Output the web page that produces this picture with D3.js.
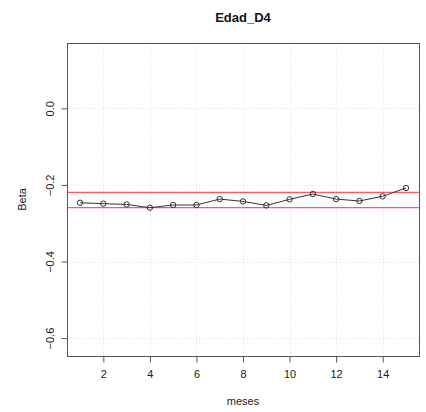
<!DOCTYPE html>
<html>
<head>
<meta charset="utf-8">
<script src="https://cdn.jsdelivr.net/npm/d3@7"></script>
<style>
  html, body { margin: 0; padding: 0; background: #fff; }
  svg { display: block; font-family: "Liberation Sans", Arial, Helvetica, sans-serif; }
</style>
</head>
<body>
<svg id="chart" width="426" height="412"></svg>
<script>
// Monthly beta estimates for Edad_D4
const meses = [1, 2, 3, 4, 5, 6, 7, 8, 9, 10, 11, 12, 13, 14, 15];
const beta = [-0.2465, -0.249, -0.251, -0.2595, -0.2525, -0.2525, -0.237, -0.243,
              -0.2535, -0.2377, -0.2238, -0.237, -0.242, -0.2298, -0.208];
// Reference band (horizontal red lines)
const refLines = [-0.2193, -0.2595];
const xTicks = [2, 4, 6, 8, 10, 12, 14];
const yTicks = [0.0, -0.2, -0.4, -0.6];
const title = "Edad_D4";

const svg = d3.select("#chart");
const pl = 67, pr = 419, pt = 43, pb = 356;

const x = d3.scaleLinear().domain([0.44, 15.56]).range([pl, pr]);
const y = d3.scaleLinear().domain([-0.6467, 0.1705]).range([pb, pt]);

// grid
const grid = svg.append("g").attr("stroke", "#e0e0e0").attr("stroke-width", 1)
  .attr("stroke-dasharray", "1,2");
grid.selectAll("line.vx").data(xTicks).join("line")
  .attr("x1", d => Math.round(x(d)) + 0.5).attr("x2", d => Math.round(x(d)) + 0.5)
  .attr("y1", pt).attr("y2", pb);
grid.selectAll("line.hy").data(yTicks).join("line")
  .attr("y1", d => Math.round(y(d)) + 0.5).attr("y2", d => Math.round(y(d)) + 0.5)
  .attr("x1", pl).attr("x2", pr);

// red reference lines
svg.append("g").selectAll("line").data(refLines).join("line")
  .attr("x1", pl).attr("x2", pr)
  .attr("y1", d => y(d)).attr("y2", d => y(d))
  .attr("stroke", "#ff5a5a").attr("stroke-width", 1.2);

// series line
svg.append("path")
  .datum(meses.map((m, i) => [m, beta[i]]))
  .attr("fill", "none").attr("stroke", "#333").attr("stroke-width", 1)
  .attr("d", d3.line().x(d => x(d[0])).y(d => y(d[1])));

// points
svg.append("g").selectAll("circle").data(meses).join("circle")
  .attr("cx", d => x(d)).attr("cy", (d, i) => y(beta[i]))
  .attr("r", 2.7).attr("fill", "none").attr("stroke", "#333").attr("stroke-width", 1);

// axes
const xAxis = svg.append("g").attr("transform", `translate(0,${pb + 0.5})`)
  .call(d3.axisBottom(x).tickValues(xTicks).tickFormat(d3.format("d")).tickSize(6).tickPadding(8));
const yAxis = svg.append("g").attr("transform", `translate(${pl + 0.5},0)`)
  .call(d3.axisLeft(y).tickValues(yTicks).tickFormat(d3.format(".1f")).tickSize(6));
[xAxis, yAxis].forEach(a => {
  a.select(".domain").remove();
  a.selectAll(".tick line").attr("stroke", "#555");
  a.selectAll(".tick text").attr("fill", "#222").style("font-size", "11px")
    .style("font-family", "'Liberation Sans', Arial, sans-serif");
});
// rotated y tick labels, centered on the tick
yAxis.selectAll(".tick text")
  .attr("transform", "rotate(-90)").attr("x", 0).attr("y", -14).attr("dy", "0")
  .attr("text-anchor", "middle");

// box
svg.append("rect").attr("x", pl + 0.5).attr("y", pt + 0.5)
  .attr("width", pr - pl).attr("height", pb - pt)
  .attr("fill", "none").attr("stroke", "#555").attr("stroke-width", 1);

// labels
svg.append("text").attr("x", (pl + pr) / 2).attr("y", 22)
  .attr("text-anchor", "middle").style("font-size", "13px").style("font-weight", "bold")
  .attr("fill", "#111").text(title);
svg.append("text").attr("x", (pl + pr) / 2).attr("y", 405)
  .attr("text-anchor", "middle").style("font-size", "11px").attr("fill", "#222").text("meses");
svg.append("text").attr("transform", `translate(25.5,${(pt + pb) / 2}) rotate(-90)`)
  .attr("text-anchor", "middle").style("font-size", "11px").attr("fill", "#222").text("Beta");
</script>
</body>
</html>
